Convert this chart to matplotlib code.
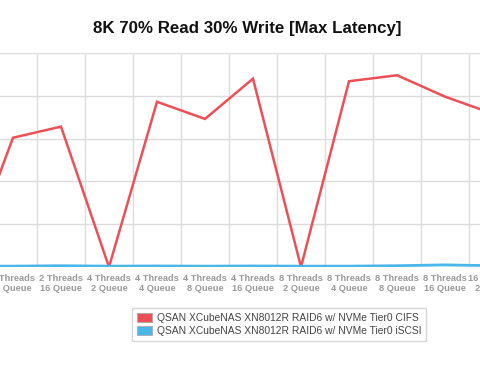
import matplotlib
matplotlib.use("Agg")
import matplotlib.pyplot as plt
from matplotlib.patches import Patch

categories = ["2 Threads\n4 Queue", "2 Threads\n8 Queue", "2 Threads\n16 Queue",
              "4 Threads\n2 Queue", "4 Threads\n4 Queue", "4 Threads\n8 Queue",
              "4 Threads\n16 Queue", "8 Threads\n2 Queue", "8 Threads\n4 Queue",
              "8 Threads\n8 Queue", "8 Threads\n16 Queue", "16 Threads\n2 Queue"]
cifs = [0, 151, 164, 0, 193, 173, 220, 0, 217, 224, 199, 179]
iscsi = [1.0, 1.0, 1.5, 1.0, 1.2, 1.0, 1.2, 1.0, 1.0, 1.5, 2.5, 1.5]
series_names = ["QSAN XCubeNAS XN8012R RAID6 w/ NVMe Tier0 CIFS",
                "QSAN XCubeNAS XN8012R RAID6 w/ NVMe Tier0 iSCSI"]
colors = ["#ec5055", "#4ab6ea"]

plt.rcParams['font.family'] = ['Liberation Sans', 'DejaVu Sans']

W, H = 480, 378
fig = plt.figure(figsize=(W / 100, H / 100), dpi=100)
ax_bottom = (H - 267) / H
ax_top = (H - 53) / H
ax = fig.add_axes([0, ax_bottom, 1, ax_top - ax_bottom])

x = list(range(len(categories)))
ax.plot(x, cifs, color=colors[0], lw=1.8, zorder=3, solid_joinstyle='miter')
ax.plot(x, iscsi, color=colors[1], lw=2.0, zorder=4)

label_style = dict(fontsize=6.7, fontweight='bold', color='#9a9a9a', linespacing=1.15)
ax.set_yticks([0, 50, 100, 150, 200, 250])
ax.set_yticklabels([])
ax.set_xticks(x)
ax.set_xticklabels(categories, **label_style)
ax.set_xticks([i + 0.5 for i in range(-1, len(categories))], minor=True)
ax.tick_params(axis='x', which='major', length=0, pad=5)
ax.tick_params(axis='x', which='minor', length=0)
ax.tick_params(axis='y', length=0)
ax.grid(True, which='minor', axis='x', color='#dcdcdc', lw=1)
ax.grid(True, which='major', axis='y', color='#dcdcdc', lw=1)
for s in ax.spines.values():
    s.set_visible(False)
# pixel mapping: category i at -35 + 48*i px
ax.set_xlim(35 / 48, (480 + 35) / 48)
ax.set_ylim(0, 250)

# labels of categories whose centre lies just outside the visible area
for i, lab in enumerate(categories):
    lo, hi = ax.get_xlim()
    if not (lo <= i <= hi):
        ax.annotate(lab, xy=(i, 0), xycoords=('data', 'axes fraction'),
                    xytext=(0, -5), textcoords='offset points',
                    ha='center', va='top', annotation_clip=False,
                    **label_style)

fig.text(247.5 / W, 1 - 28 / H, "8K 70% Read 30% Write [Max Latency]",
         ha='center', va='center', fontsize=12.2, fontweight='bold', color='#111111')

handles = [Patch(facecolor=c, edgecolor='#aaaaaa', lw=0.6) for c in colors]
leg = fig.legend(handles, series_names, loc='center',
                 bbox_to_anchor=(279 / W, 1 - 324.5 / H), fontsize=7.4,
                 frameon=True, fancybox=False, handlelength=1.45, handleheight=1.0,
                 handletextpad=0.5, borderpad=0.45, labelspacing=0.35,
                 borderaxespad=0)
leg.get_frame().set_edgecolor('#cccccc')
leg.get_frame().set_linewidth(1.0)
for t in leg.get_texts():
    t.set_color('#444444')

fig.savefig("out.png", dpi=100)
